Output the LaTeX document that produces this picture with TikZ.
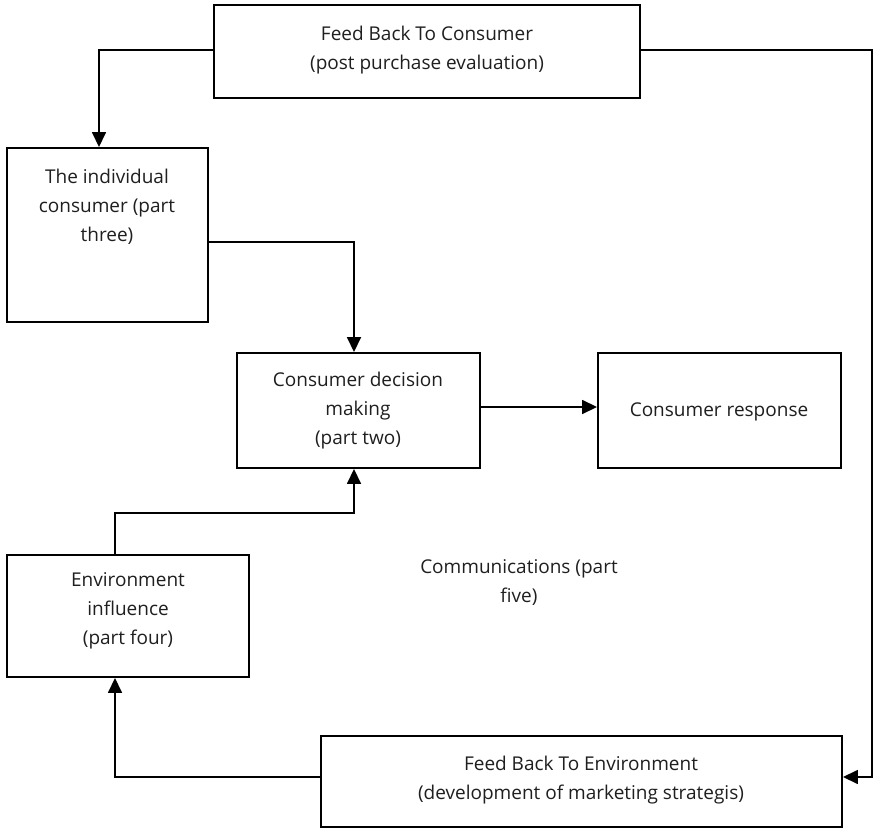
\documentclass[tikz,border=0pt]{standalone}
\usepackage{fontspec}
\setmainfont{Open Sans}
\usetikzlibrary{arrows.meta}

\tikzset{
  box/.style={draw=black, line width=1.9pt, fill=white, inner sep=0pt},
  label/.style={inner sep=0pt, align=center, text=black!88,
    font=\fontsize{19pt}{29pt}\selectfont},
  link/.style={line width=1.6pt, -{Triangle[length=15pt,width=14pt]}},
}

% a box from its two corners (pixel-like units, y downwards)
\newcommand{\boxat}[5]{%
  \node[box, minimum width={(#4-#2)*1pt}, minimum height={(#5-#3)*1pt}]
    (#1) at ({(#2+#4)/2},{(#3+#5)/2}) {};}

\begin{document}
\begin{tikzpicture}[x=1pt, y=-1pt]
  \useasboundingbox (0,0) rectangle (873,829);

  % boxes
  \boxat{fbc}{214}{5}{640}{98}
  \boxat{ind}{7}{148}{208}{322}
  \boxat{dec}{237}{353}{480}{468}
  \boxat{resp}{598}{353}{841}{468}
  \boxat{env}{7}{555}{249}{677}
  \boxat{fbe}{321}{736}{842}{827}

  % texts
  \node[label] (fbct) at (427,50) {Feed Back To Consumer\\(post purchase evaluation)};
  \node[label] (indt) at (107,207) {The individual\\consumer (part\\three)};
  \node[label] (dect) at (358,411) {Consumer decision\\making\\(part two)};
  \node[label] (respt) at (719,412) {Consumer response};
  \node[label] (envt) at (128,611) {Environment\\influence\\(part four)};
  \node[label] (fbet) at (581,780) {Feed Back To Environment\\(development of marketing strategis)};
  \node[label] (comm) at (519,583) {Communications (part\\five)};

  % connectors
  \draw[link] (fbc.west |- 0,50) -| (ind.north -| 99,0);
  \draw[link] (fbc.east |- 0,50) -- (872,50) |- (fbe.east |- 0,777);
  \draw[link] (ind.east |- 0,242) -| (dec.north -| 354,0);
  \draw[link] (dec.east |- 0,407) -- (resp.west |- 0,407);
  \draw[link] (env.north -| 115,0) |- (354,513) -- (dec.south -| 354,0);
  \draw[link] (fbe.west |- 0,777) -| (env.south -| 115,0);
\end{tikzpicture}
\end{document}
